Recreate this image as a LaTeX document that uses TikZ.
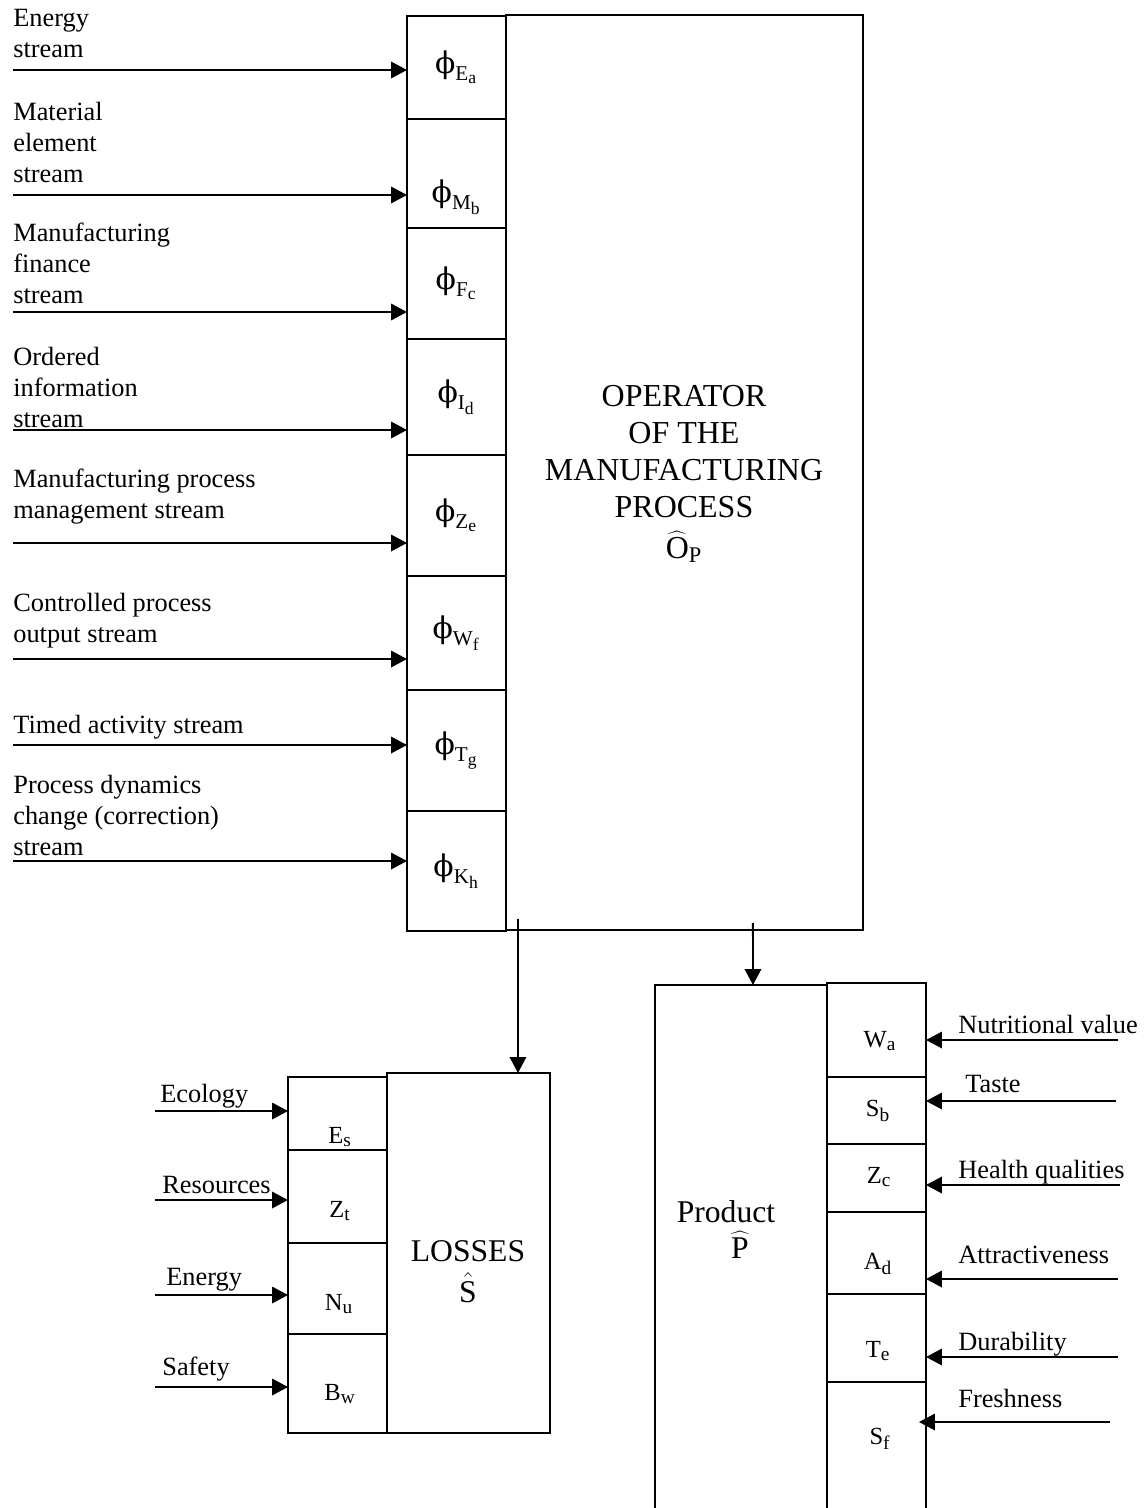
\RequirePackage{fix-cm}
\documentclass[tikz,border=0pt]{standalone}
\usepackage{fontspec}
\setmainfont{Liberation Serif}
\newfontfamily\phifam{DejaVu Serif}
\newcommand{\phis}[2]{$\mbox{\phifam ϕ}_{\mathrm{#1}_\mathrm{#2}}$}
\DeclareMathSizes{17}{17}{12}{10}
\DeclareMathSizes{14}{14}{11}{9}
\usetikzlibrary{arrows.meta, positioning}

\begin{document}
\begin{tikzpicture}[
  x=0.02cm, y=-0.02cm,
  >={Triangle[length=3.2mm, width=3.3mm]},
  phifont/.style={font=\fontsize{17}{20}\selectfont},
  cell/.style={draw, line width=1.2pt, inner sep=0pt, outer sep=0pt,
    minimum width=1.98cm, phifont},
  block/.style={draw, line width=1.2pt, inner sep=0pt, outer sep=0pt, anchor=north west},
  sym/.style={inner sep=0pt, font=\fontsize{14}{16}\selectfont},
  txt/.style={inner sep=0pt, anchor=base west, align=left, font=\fontsize{15}{17.4}\selectfont},
  heading/.style={inner sep=0pt, anchor=base, align=center},
  flow/.style={line width=1.1pt, ->}
]
\useasboundingbox (0,0) rectangle (1146,1508);

% Operator of the manufacturing process
\node[cell, anchor=north west, minimum height=2.06cm] (phiE) at (407,16) {\phis{E}{a}};
\node[cell, below=0pt of phiE, minimum height=2.18cm,
  label={[phifont, yshift=-0.47cm]center:\phis{M}{b}}] (phiM) {};
\node[cell, below=0pt of phiM, minimum height=2.22cm] (phiF) {\phis{F}{c}};
\node[cell, below=0pt of phiF, minimum height=2.32cm] (phiI) {\phis{I}{d}};
\node[cell, below=0pt of phiI, minimum height=2.42cm] (phiZ) {\phis{Z}{e}};
\node[cell, below=0pt of phiZ, minimum height=2.28cm] (phiW) {\phis{W}{f}};
\node[cell, below=0pt of phiW, minimum height=2.42cm] (phiT) {\phis{T}{g}};
\node[cell, below=0pt of phiT, minimum height=2.40cm] (phiK) {\phis{K}{h}};

\node[block, minimum width=7.14cm, minimum height=18.3cm] (oper) at (506,15) {};
\node[heading, font=\fontsize{18.2}{21}\selectfont] (operText) at (684,558)
  {OPERATOR\\OF THE\\MANUFACTURING\\PROCESS\\[2pt]$\widehat{\mathrm{O}}_\mathrm{P}$};

% Input streams
\coordinate (inE) at (13,70);
\coordinate (inM) at (13,195);
\coordinate (inF) at (13,312);
\coordinate (inI) at (13,430);
\coordinate (inZ) at (13,543);
\coordinate (inW) at (13,659);
\coordinate (inT) at (13,745);
\coordinate (inK) at (13,861);

\draw[flow] (inE) -- (inE -| phiE.west);
\draw[flow] (inM) -- (inM -| phiM.west);
\draw[flow] (inF) -- (inF -| phiF.west);
\draw[flow] (inI) -- (inI -| phiI.west);
\draw[flow] (inZ) -- (inZ -| phiZ.west);
\draw[flow] (inW) -- (inW -| phiW.west);
\draw[flow] (inT) -- (inT -| phiT.west);
\draw[flow] (inK) -- (inK -| phiK.west);

\node[txt] (lblE) at (13,57) {Energy\\stream};
\node[txt] (lblM) at (13,182) {Material\\element\\stream};
\node[txt] (lblF) at (13,303) {Manufacturing\\finance\\stream};
\node[txt] (lblI) at (13,427) {Ordered\\information\\stream};
\node[txt] (lblZ) at (13,518) {Manufacturing process\\management stream};
\node[txt] (lblW) at (13,642) {Controlled process\\output stream};
\node[txt] (lblT) at (13,733) {Timed activity stream};
\node[txt] (lblK) at (13,855) {Process dynamics\\change (correction)\\stream};

% Losses
\node[block, minimum width=3.26cm, minimum height=7.2cm] (loss) at (387,1073) {};
\node[cell, anchor=north west, minimum height=1.46cm] (lossE) at (288,1077) {};
\node[cell, below=0pt of lossE, minimum height=1.86cm] (lossZ) {};
\node[cell, below=0pt of lossZ, minimum height=1.82cm] (lossN) {};
\node[cell, below=0pt of lossN, minimum height=1.98cm] (lossB) {};

\node[sym] (symE) at (340,1137) {$\mathrm{E}_\mathrm{s}$};
\node[sym] (symZ) at (340,1211) {$\mathrm{Z}_\mathrm{t}$};
\node[sym] (symN) at (339,1304) {$\mathrm{N}_\mathrm{u}$};
\node[sym] (symB) at (340,1394) {$\mathrm{B}_\mathrm{w}$};

\node[heading, font=\fontsize{18}{22.8}\selectfont] (lossText) at (468,1302)
  {LOSSES\\$\hat{\mathrm{S}}$};

\coordinate (ecol) at (155,1111);
\coordinate (reso) at (155,1200);
\coordinate (ener) at (155,1295);
\coordinate (safe) at (155,1387);
\draw[flow] (ecol) -- (ecol -| lossE.west);
\draw[flow] (reso) -- (reso -| lossZ.west);
\draw[flow] (ener) -- (ener -| lossN.west);
\draw[flow] (safe) -- (safe -| lossB.west);

\node[txt] (lblEcol) at (160,1102) {Ecology};
\node[txt] (lblReso) at (162,1193) {Resources};
\node[txt] (lblEner) at (166,1285) {Energy};
\node[txt] (lblSafe) at (162,1375) {Safety};

% Product
\node[block, minimum width=3.44cm, minimum height=11.2cm] (prod) at (655,985) {};
\node[cell, anchor=north west, minimum height=1.88cm] (prodW) at (827,983) {};
\node[cell, below=0pt of prodW, minimum height=1.34cm] (prodS) {};
\node[cell, below=0pt of prodS, minimum height=1.36cm] (prodZ) {};
\node[cell, below=0pt of prodZ, minimum height=1.64cm] (prodA) {};
\node[cell, below=0pt of prodA, minimum height=1.76cm] (prodT) {};
\node[cell, below=0pt of prodT, minimum height=3.26cm] (prodF) {};

\node[sym] (symW) at (880,1041) {$\mathrm{W}_\mathrm{a}$};
\node[sym] (symS) at (878,1111) {$\mathrm{S}_\mathrm{b}$};
\node[sym] (symZc) at (879,1177) {$\mathrm{Z}_\mathrm{c}$};
\node[sym] (symA) at (878,1264) {$\mathrm{A}_\mathrm{d}$};
\node[sym] (symT) at (878,1351) {$\mathrm{T}_\mathrm{e}$};
\node[sym] (symSf) at (880,1439) {$\mathrm{S}_\mathrm{f}$};

\node[heading, font=\fontsize{18}{20.5}\selectfont] (prodText) at (726,1258)
  {Product\\\hspace*{0.56cm}$\widehat{\mathrm{P}}$};

\coordinate (nutr) at (1118,1040);
\coordinate (tast) at (1116,1101);
\coordinate (heal) at (1120,1185);
\coordinate (attr) at (1118,1279);
\coordinate (dura) at (1118,1357);
\coordinate (fres) at (1110,1422);
\draw[flow] (nutr) -- (nutr -| prodW.east);
\draw[flow] (tast) -- (tast -| prodS.east);
\draw[flow] (heal) -- (heal -| prodZ.east);
\draw[flow] (attr) -- (attr -| prodA.east);
\draw[flow] (dura) -- (dura -| prodT.east);
\draw[flow] (fres) -- ([xshift=-0.14cm]fres -| prodF.east);

\node[txt] (lblNutr) at (958,1033) {Nutritional value};
\node[txt] (lblTast) at (965,1092) {Taste};
\node[txt] (lblHeal) at (958,1178) {Health qualities};
\node[txt] (lblAttr) at (958,1263) {Attractiveness};
\node[txt] (lblDura) at (958,1350) {Durability};
\node[txt] (lblFres) at (958,1407) {Freshness};

% Outputs
\draw[flow] ([xshift=0.24cm, yshift=0.22cm]oper.south west) -- ([xshift=0.99cm]loss.north);
\draw[flow] ([xshift=4.94cm, yshift=0.14cm]oper.south west) -- ([xshift=0.24cm]prod.north);

\end{tikzpicture}
\end{document}
